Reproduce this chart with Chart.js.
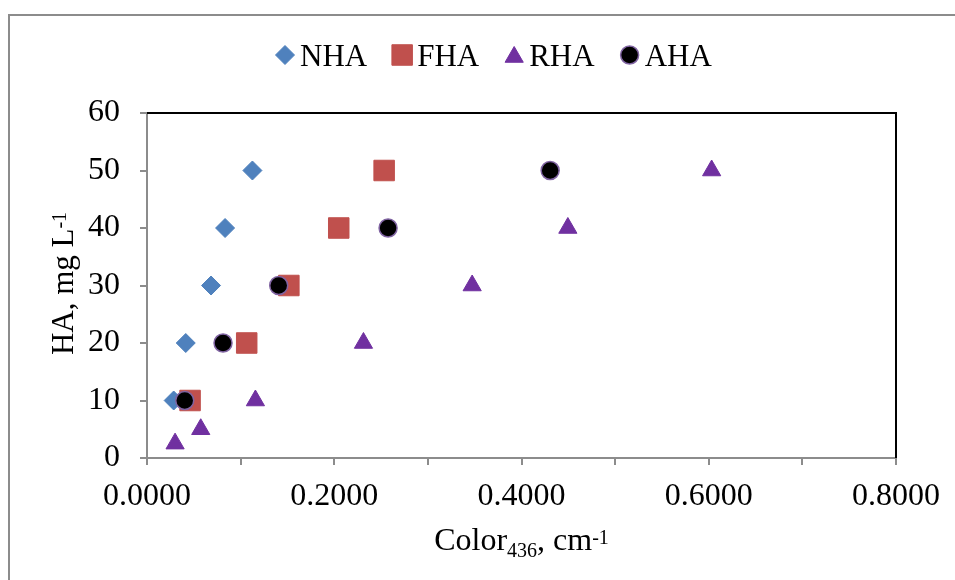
<!DOCTYPE html>
<html>
<head>
<meta charset="utf-8">
<script src="https://cdn.jsdelivr.net/npm/chart.js@4.4.1/dist/chart.umd.min.js"></script>
<style>
  html, body { margin: 0; padding: 0; background: #fff; }
</style>
</head>
<body>
<canvas id="grafico" width="955" height="580"></canvas>
<script>
// Series names, in legend order
const series = ['NHA', 'FHA', 'RHA', 'AHA'];

// HA concentration (mg/L) and Color436 (cm-1) for every humic acid
const haNHA = [10, 20, 30, 40, 50];
const colorNHA = [0.0285, 0.0414, 0.0684, 0.0834, 0.1126];

const haFHA = [10, 20, 30, 40, 50];
const colorFHA = [0.0460, 0.1065, 0.1515, 0.2048, 0.2533];

const haRHA = [2.5, 5, 10, 20, 30, 40, 50];
const colorRHA = [0.0300, 0.0574, 0.1158, 0.2312, 0.3473, 0.4495, 0.6031];

const haAHA = [10, 20, 30, 40, 50];
const colorAHA = [0.0403, 0.0812, 0.1407, 0.2575, 0.4306];

// Axis limits and steps
const xMin = 0, xMax = 0.8, xStep = 0.1;
const yMin = 0, yMax = 60, yStep = 10;

const fuente = 'Liberation Serif, "Times New Roman", serif';

function puntos(xs, ys) {
    return xs.map((x, i) => ({ x: x, y: ys[i] }));
}

// Text with sub/superscript pieces, centered on x
function textoCompuesto(ctx, partes, x, y) {
    let ancho = 0;
    partes.forEach(p => {
        ctx.font = p.size + 'px ' + fuente;
        p.w = ctx.measureText(p.t).width;
        ancho += p.w;
    });
    let cx = x - ancho / 2;
    ctx.textAlign = 'left';
    ctx.textBaseline = 'alphabetic';
    partes.forEach(p => {
        ctx.font = p.size + 'px ' + fuente;
        ctx.fillText(p.t, cx, y + (p.dy || 0));
        cx += p.w;
    });
}

// Frame, plot borders, axis titles and legend
const decorado = {
    id: 'decorado',
    beforeDraw(chart) {
        const ctx = chart.ctx;
        ctx.save();
        ctx.fillStyle = '#fff';
        ctx.fillRect(0, 0, chart.width, chart.height);
        ctx.strokeStyle = '#8c8c8c';
        ctx.lineWidth = 2;
        ctx.beginPath();
        ctx.moveTo(9, chart.height);
        ctx.lineTo(9, 15);
        ctx.lineTo(chart.width, 15);
        ctx.stroke();
        ctx.restore();
    },
    beforeDatasetsDraw(chart) {
        const ctx = chart.ctx;
        const a = chart.chartArea;
        ctx.save();
        ctx.strokeStyle = '#000';
        ctx.lineWidth = 2;
        ctx.beginPath();
        ctx.moveTo(a.left, a.top);
        ctx.lineTo(a.right, a.top);
        ctx.lineTo(a.right, a.bottom);
        ctx.stroke();
        ctx.restore();
    },
    afterDraw(chart) {
        const ctx = chart.ctx;
        const a = chart.chartArea;
        ctx.save();
        ctx.fillStyle = '#000';

        // x axis title
        textoCompuesto(ctx, [
            { t: 'Color', size: 32 },
            { t: '436', size: 20, dy: 7 },
            { t: ', cm', size: 32 },
            { t: '-1', size: 20, dy: -6 }
        ], (a.left + a.right) / 2, 550);

        // y axis title
        ctx.save();
        ctx.translate(73, (a.top + a.bottom) / 2 - 2);
        ctx.rotate(-Math.PI / 2);
        textoCompuesto(ctx, [
            { t: 'HA, mg L', size: 31 },
            { t: '-1', size: 20, dy: -7 }
        ], 0, 0);
        ctx.restore();

        // legend
        const sets = chart.data.datasets;
        ctx.font = '31px ' + fuente;
        const hueco = 15, entre = 35;
        let x = 285;
        const yc = 55;
        sets.forEach(d => {
            ctx.fillStyle = d.backgroundColor;
            ctx.strokeStyle = d.borderColor;
            ctx.lineWidth = d.borderWidth;
            Chart.helpers.drawPoint(ctx, {
                pointStyle: d.pointStyle,
                radius: d.pointRadius,
                rotation: 0,
                borderWidth: d.borderWidth
            }, x, yc + (d.pointStyle === 'triangle' ? 2 : 0));
            ctx.fillStyle = '#000';
            ctx.font = '31px ' + fuente;
            ctx.textAlign = 'left';
            ctx.textBaseline = 'alphabetic';
            ctx.fillText(d.label, x + hueco, 66);
            x += hueco + ctx.measureText(d.label).width + entre;
        });
        ctx.restore();
    }
};

const ctx = document.getElementById('grafico').getContext('2d');

new Chart(ctx, {
    type: 'scatter',
    data: {
        datasets: [
            {
                label: series[0],
                data: puntos(colorNHA, haNHA),
                pointStyle: 'rectRot',
                pointRadius: 9.5,
                backgroundColor: '#4f81bd',
                borderColor: '#4f81bd',
                borderWidth: 1,
                order: 3
            },
            {
                label: series[1],
                data: puntos(colorFHA, haFHA),
                pointStyle: 'rect',
                pointRadius: 14.5,
                backgroundColor: '#c0504d',
                borderColor: '#c0504d',
                borderWidth: 1,
                order: 2
            },
            {
                label: series[2],
                data: puntos(colorRHA, haRHA),
                pointStyle: 'triangle',
                pointRadius: 10.5,
                backgroundColor: '#7030a0',
                borderColor: '#7030a0',
                borderWidth: 1,
                order: 1
            },
            {
                label: series[3],
                data: puntos(colorAHA, haAHA),
                pointStyle: 'circle',
                pointRadius: 9,
                backgroundColor: '#000000',
                borderColor: '#8064a2',
                borderWidth: 1.5,
                order: 0
            }
        ]
    },
    options: {
        responsive: false,
        animation: false,
        events: [],
        layout: {
            padding: { top: 113, right: 59, left: 0, bottom: 0 }
        },
        plugins: {
            legend: { display: false },
            tooltip: { enabled: false }
        },
        scales: {
            x: {
                type: 'linear',
                min: xMin,
                max: xMax,
                afterFit: scale => { scale.height = 122; },
                border: { color: '#8c8c8c', width: 2 },
                grid: {
                    drawOnChartArea: false,
                    drawTicks: true,
                    tickLength: 7,
                    color: '#8c8c8c',
                    lineWidth: 2
                },
                ticks: {
                    stepSize: xStep,
                    padding: 12,
                    maxRotation: 0,
                    autoSkip: false,
                    color: '#000',
                    font: { family: fuente, size: 32 },
                    callback: v => (Math.round(v * 10) % 2 === 0 ? v.toFixed(4) : '')
                }
            },
            y: {
                type: 'linear',
                min: yMin,
                max: yMax,
                afterFit: scale => { scale.width = 147; },
                border: { color: '#8c8c8c', width: 2 },
                grid: {
                    drawOnChartArea: false,
                    drawTicks: true,
                    tickLength: 7,
                    color: '#8c8c8c',
                    lineWidth: 2
                },
                ticks: {
                    stepSize: yStep,
                    padding: 20,
                    color: '#000',
                    font: { family: fuente, size: 32 }
                }
            }
        }
    },
    plugins: [decorado]
});
</script>
</body>
</html>
